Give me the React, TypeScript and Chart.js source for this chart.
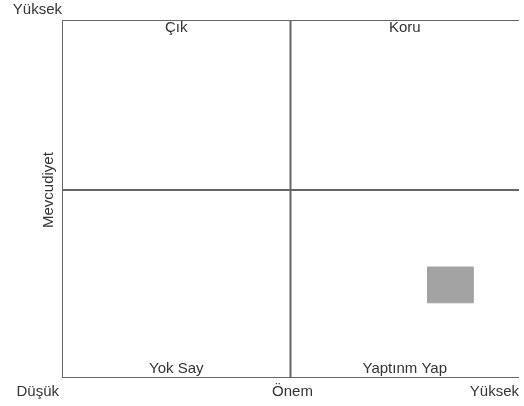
import React, { useEffect, useRef } from "react";
import { Chart, registerables } from "chart.js";

Chart.register(...registerables);

// Axis ranges and divider values (data units)
const xRange = [0, 10];
const yRange = [0, 10];
const xMid = 5;
const yMid = 5.25;

// Quadrant labels: [text, x value (quadrant centre), position]
const quadrantLabels: [string, number, "top" | "bottom"][] = [
  ["Çık", 2.5, "top"],
  ["Koru", 7.5, "top"],
  ["Yok Say", 2.5, "bottom"],
  ["Yaptınm Yap", 7.5, "bottom"],
];

// Axis tick labels
const yTopLabel = "Yüksek";
const xLowLabel = "Düşük";
const xTitle = "Önem";
const xHighLabel = "Yüksek";
const yTitle = "Mevcudiyet";

// The grey item (rectangle in data units)
const itemX = [8, 9];
const itemY = [2.1, 3.1];

const FONT = '15px "Liberation Sans", Arial, sans-serif';
const TEXT = "#333333";
const LINE = "#666666";

const textPlugin = {
  id: "quadText",
  afterDraw(chart: any) {
    const { ctx, chartArea, scales } = chart;
    const xs = scales.x;
    const ys = scales.y;
    ctx.save();
    ctx.font = FONT;
    ctx.fillStyle = TEXT;
    ctx.textBaseline = "alphabetic";
    // quadrant labels
    ctx.textAlign = "center";
    for (const [t, xv, pos] of quadrantLabels) {
      const px = xs.getPixelForValue(xv);
      const py = pos === "top" ? chartArea.top + 11.5 : chartArea.bottom - 5.5;
      ctx.fillText(t, px, py);
    }
    // top-left Yüksek
    ctx.textAlign = "right";
    ctx.fillText(yTopLabel, chartArea.left, chartArea.top - 6.5);
    // bottom labels
    const by = chartArea.bottom + 18;
    ctx.textAlign = "right";
    ctx.fillText(xLowLabel, chartArea.left - 3, by);
    ctx.textAlign = "center";
    ctx.fillText(xTitle, xs.getPixelForValue(xMid) + 2, by);
    ctx.textAlign = "right";
    ctx.fillText(xHighLabel, chartArea.right, by);
    // y title
    ctx.translate(chartArea.left - 9, ys.getPixelForValue(yMid));
    ctx.rotate(-Math.PI / 2);
    ctx.textAlign = "center";
    ctx.fillText(yTitle, 0, 0);
    ctx.restore();
  },
};

const seg = (pts: { x: number; y: number }[]) => ({
  data: pts,
  showLine: true,
  borderColor: LINE,
  borderWidth: 2,
  pointRadius: 0,
  fill: false,
});

export default function App() {
  const ref = useRef<HTMLCanvasElement | null>(null);
  useEffect(() => {
    if (!ref.current) return;
    const chart = new Chart(ref.current, {
      type: "scatter",
      data: {
        datasets: [
          {
            data: [
              { x: itemX[0], y: itemY[0] },
              { x: itemX[1], y: itemY[0] },
              { x: itemX[1], y: itemY[1] },
              { x: itemX[0], y: itemY[1] },
              { x: itemX[0], y: itemY[0] },
            ],
            showLine: true,
            fill: "shape",
            backgroundColor: "#a3a3a3",
            borderColor: "#a3a3a3",
            borderWidth: 1,
            pointRadius: 0,
          } as any,
          seg([{ x: xRange[0], y: yRange[0] }, { x: xRange[0], y: yRange[1] }]),
          seg([{ x: xRange[0], y: yRange[1] }, { x: xRange[1], y: yRange[1] }]),
          seg([{ x: xRange[0], y: yRange[0] }, { x: xRange[1], y: yRange[0] }]),
          seg([{ x: xMid, y: yRange[0] }, { x: xMid, y: yRange[1] }]),
          seg([{ x: xRange[0], y: yMid }, { x: xRange[1], y: yMid }]),
        ] as any,
      },
      options: {
        animation: false,
        responsive: false,
        layout: { padding: { left: 62, top: 20, right: 5, bottom: 28 } },
        plugins: { legend: { display: false }, tooltip: { enabled: false } },
        scales: {
          x: { type: "linear", min: xRange[0], max: xRange[1], display: false },
          y: { type: "linear", min: yRange[0], max: yRange[1], display: false },
        },
      },
      plugins: [textPlugin],
    });
    return () => chart.destroy();
  }, []);
  return (
    <div style={{ position: "fixed", left: 0, top: 0, width: 524, height: 406, background: "#fff" }}>
      <canvas ref={ref} width={524} height={406} style={{ display: "block" }} />
    </div>
  );
}
